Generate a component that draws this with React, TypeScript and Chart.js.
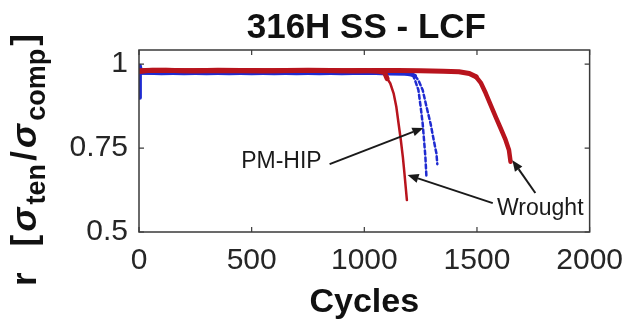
import React, { useEffect, useRef } from "react";
import { Chart, registerables } from "chart.js";

Chart.register(...registerables);

// ---------- data ----------
const xTickValues = [0, 500, 1000, 1500, 2000];
const yTickValues = [0.5, 0.75, 1];

// Wrought specimen 1 (red, early failure)
const wrought1Cycles = [0, 40, 120, 200, 300, 400, 500, 600, 700, 800, 900, 1000, 1060, 1090, 1101, 1115, 1130, 1142, 1152, 1162, 1171, 1178, 1189];
const wrought1Ratio = [0.978, 0.981, 0.982, 0.98, 0.981, 0.98, 0.981, 0.98, 0.981, 0.981, 0.98, 0.981, 0.979, 0.975, 0.957, 0.943, 0.913, 0.873, 0.823, 0.774, 0.724, 0.675, 0.595];

// Wrought specimen 2 (red, late failure)
const wrought2Cycles = [0, 60, 150, 250, 350, 450, 550, 650, 750, 850, 950, 1050, 1150, 1250, 1350, 1420, 1466, 1496, 1518, 1539, 1561, 1583, 1605, 1627, 1642, 1649];
const wrought2Ratio = [0.98, 0.982, 0.981, 0.98, 0.982, 0.981, 0.98, 0.981, 0.982, 0.981, 0.98, 0.981, 0.981, 0.98, 0.979, 0.977, 0.972, 0.962, 0.943, 0.913, 0.878, 0.843, 0.809, 0.774, 0.744, 0.709];

// PM-HIP specimen 1 (blue)
const pmhip1Cycles = [0, 4, 10, 100, 200, 300, 400, 500, 600, 700, 800, 900, 1000, 1100, 1180, 1215, 1225, 1240, 1250, 1259, 1265, 1271, 1276];
const pmhip1Ratio = [0.9, 0.995, 0.974, 0.974, 0.973, 0.974, 0.973, 0.974, 0.973, 0.974, 0.973, 0.974, 0.974, 0.973, 0.972, 0.968, 0.952, 0.923, 0.873, 0.823, 0.774, 0.724, 0.66];

// PM-HIP specimen 2 (blue)
const pmhip2Cycles = [0, 100, 200, 300, 400, 500, 600, 700, 800, 900, 1000, 1100, 1200, 1225, 1240, 1259, 1276, 1294, 1308, 1320, 1324];
const pmhip2Ratio = [0.975, 0.973, 0.974, 0.973, 0.974, 0.973, 0.974, 0.973, 0.974, 0.973, 0.974, 0.973, 0.972, 0.965, 0.952, 0.923, 0.873, 0.823, 0.774, 0.734, 0.702];

// annotations (data coordinates)
const annotationTexts = ["PM-HIP", "Wrought"];
const annotationTextCycles = [632, 1781];
const annotationTextRatios = [0.708, 0.571];
const arrowTailCycles = [846, 1570, 1759];
const arrowTailRatios = [0.702, 0.586, 0.616];
const arrowTipCycles = [1262, 1192, 1657];
const arrowTipRatios = [0.81, 0.67, 0.714];

const titleText = "316H SS - LCF";
const xTitleText = "Cycles";

// ---------- styles ----------
const RED = "#b8141d";
const BLUE = "#1f2bd1";
const FONT = '"Liberation Sans", Arial, Helvetica, sans-serif';
const AXIS_COLOR = "#262626";

function makeDataset(label: string, xs: number[], ys: number[], color: string, thick: number, thin: number, dashed: boolean) {
  return {
    label,
    data: xs.map((x, i) => ({ x, y: ys[i] })),
    borderColor: color,
    backgroundColor: color,
    borderWidth: thick,
    borderJoinStyle: "round",
    borderCapStyle: "round",
    pointRadius: 0,
    tension: 0,
    segment: {
      borderWidth: (c: any) => (c.p1.parsed.y < 0.955 ? thin : thick),
      borderDash: (c: any) => (dashed && c.p1.parsed.y < 0.955 ? [4, 3] : undefined),
    },
  };
}

function drawArrow(ctx: CanvasRenderingContext2D, x0: number, y0: number, x1: number, y1: number) {
  const ang = Math.atan2(y1 - y0, x1 - x0);
  const headLen = 11;
  const headW = 4.5;
  const bx = x1 - headLen * Math.cos(ang);
  const by = y1 - headLen * Math.sin(ang);
  ctx.beginPath();
  ctx.moveTo(x0, y0);
  ctx.lineTo(bx, by);
  ctx.stroke();
  ctx.beginPath();
  ctx.moveTo(x1, y1);
  ctx.lineTo(bx + headW * Math.sin(ang), by - headW * Math.cos(ang));
  ctx.lineTo(bx - headW * Math.sin(ang), by + headW * Math.cos(ang));
  ctx.closePath();
  ctx.fill();
}

function drawYLabel(ctx: CanvasRenderingContext2D, baseX: number, topY: number, bottomY: number) {
  const main = `bold 35px ${FONT}`;
  const greek = `italic bold 36px ${FONT}`;
  const sub = `bold 27px ${FONT}`;
  const parts = [
    { t: "r", f: main, dy: 0 },
    { t: "[", f: main, dy: 0 },
    { t: "σ", f: greek, dy: 0 },
    { t: "ten", f: sub, dy: 9 },
    { t: "/", f: main, dy: 0 },
    { t: "σ", f: greek, dy: 0 },
    { t: "comp", f: sub, dy: 9 },
    { t: "]", f: main, dy: 0 },
  ];
  const widths = parts.map((p) => {
    ctx.font = p.f;
    return ctx.measureText(p.t).width;
  });
  const natural = widths.reduce((a, b) => a + b, 0);
  const target = bottomY - topY;
  const firstGap = 26;
  const rest = Math.max(0, (target - natural - firstGap) / (parts.length - 2));
  ctx.save();
  ctx.translate(baseX, bottomY);
  ctx.rotate(-Math.PI / 2);
  ctx.fillStyle = "#111";
  ctx.textBaseline = "alphabetic";
  ctx.textAlign = "left";
  let x = 0;
  parts.forEach((p, i) => {
    ctx.font = p.f;
    ctx.fillText(p.t, x, p.dy);
    x += widths[i] + (i === 0 ? firstGap : rest);
  });
  ctx.restore();
}

const decorPlugin = {
  id: "decor",
  afterDatasetsDraw(chart: any) {
    const { ctx, chartArea: a, scales } = chart;
    const sx = scales.x;
    const sy = scales.y;
    ctx.save();
    // box
    ctx.strokeStyle = "#3a3a3a";
    ctx.lineWidth = 1.5;
    ctx.strokeRect(a.left, a.top, a.right - a.left, a.bottom - a.top);
    // inward ticks on all four sides
    const tl = 5;
    ctx.lineWidth = 1.2;
    ctx.beginPath();
    xTickValues.forEach((v) => {
      const px = sx.getPixelForValue(v);
      ctx.moveTo(px, a.bottom);
      ctx.lineTo(px, a.bottom - tl);
      ctx.moveTo(px, a.top);
      ctx.lineTo(px, a.top + tl);
    });
    yTickValues.forEach((v) => {
      const py = sy.getPixelForValue(v);
      ctx.moveTo(a.left, py);
      ctx.lineTo(a.left + tl, py);
      ctx.moveTo(a.right, py);
      ctx.lineTo(a.right - tl, py);
    });
    ctx.stroke();

    // annotations
    ctx.fillStyle = "#1a1a1a";
    ctx.strokeStyle = "#1a1a1a";
    ctx.lineWidth = 2;
    ctx.font = `23px ${FONT}`;
    ctx.textAlign = "center";
    ctx.textBaseline = "middle";
    annotationTexts.forEach((t, i) => {
      ctx.fillText(t, sx.getPixelForValue(annotationTextCycles[i]), sy.getPixelForValue(annotationTextRatios[i]));
    });
    arrowTailCycles.forEach((c, i) => {
      drawArrow(
        ctx,
        sx.getPixelForValue(c),
        sy.getPixelForValue(arrowTailRatios[i]),
        sx.getPixelForValue(arrowTipCycles[i]),
        sy.getPixelForValue(arrowTipRatios[i])
      );
    });
    ctx.restore();
  },
  afterDraw(chart: any) {
    const { ctx, chartArea: a } = chart;
    ctx.save();
    ctx.fillStyle = "#111";
    ctx.textAlign = "center";
    ctx.textBaseline = "alphabetic";
    ctx.font = `bold 35px ${FONT}`;
    ctx.fillText(titleText, (a.left + a.right) / 2 + 2, 38);
    ctx.font = `bold 34px ${FONT}`;
    ctx.fillText(xTitleText, (a.left + a.right) / 2, 312);
    drawYLabel(ctx, 36, 34, 286);
    ctx.restore();
  },
};

export default function App() {
  const canvasRef = useRef<HTMLCanvasElement | null>(null);

  useEffect(() => {
    const canvas = canvasRef.current;
    if (!canvas) return;
    const chart = new Chart(canvas, {
      type: "line",
      data: {
        datasets: [
          makeDataset("Wrought 1", wrought1Cycles, wrought1Ratio, RED, 5, 2.5, false),
          makeDataset("Wrought 2", wrought2Cycles, wrought2Ratio, RED, 5, 4.5, false),
          makeDataset("PM-HIP 1", pmhip1Cycles, pmhip1Ratio, BLUE, 4, 2.5, true),
          makeDataset("PM-HIP 2", pmhip2Cycles, pmhip2Ratio, BLUE, 4, 2.5, true),
        ] as any,
      },
      options: {
        responsive: false,
        animation: false,
        devicePixelRatio: 1,
        layout: { padding: { top: 50, right: 39, bottom: 0, left: 0 } },
        plugins: {
          legend: { display: false },
          tooltip: { enabled: false },
          title: { display: false },
        },
        scales: {
          x: {
            type: "linear",
            min: 0,
            max: 2000,
            afterBuildTicks: (s: any) => {
              s.ticks = xTickValues.map((v) => ({ value: v }));
            },
            afterFit: (s: any) => {
              s.height = 91;
            },
            grid: { display: false, drawTicks: false },
            border: { display: false },
            ticks: {
              padding: 11,
              maxRotation: 0,
              autoSkip: false,
              color: AXIS_COLOR,
              font: { family: FONT, size: 30 },
              callback: (v: any) => String(v),
            },
          },
          y: {
            type: "linear",
            min: 0.5,
            max: 1.042,
            afterBuildTicks: (s: any) => {
              s.ticks = yTickValues.map((v) => ({ value: v }));
            },
            afterFit: (s: any) => {
              s.width = 139;
            },
            grid: { display: false, drawTicks: false },
            border: { display: false },
            ticks: {
              padding: 11,
              autoSkip: false,
              color: AXIS_COLOR,
              font: { family: FONT, size: 30 },
              callback: (v: any) => String(v),
            },
          },
        },
      },
      plugins: [decorPlugin],
    });
    return () => chart.destroy();
  }, []);

  return (
    <div style={{ position: "fixed", left: 0, top: 0, width: 634, height: 323, background: "#fff" }}>
      <canvas ref={canvasRef} width={634} height={323} style={{ display: "block" }} />
    </div>
  );
}
